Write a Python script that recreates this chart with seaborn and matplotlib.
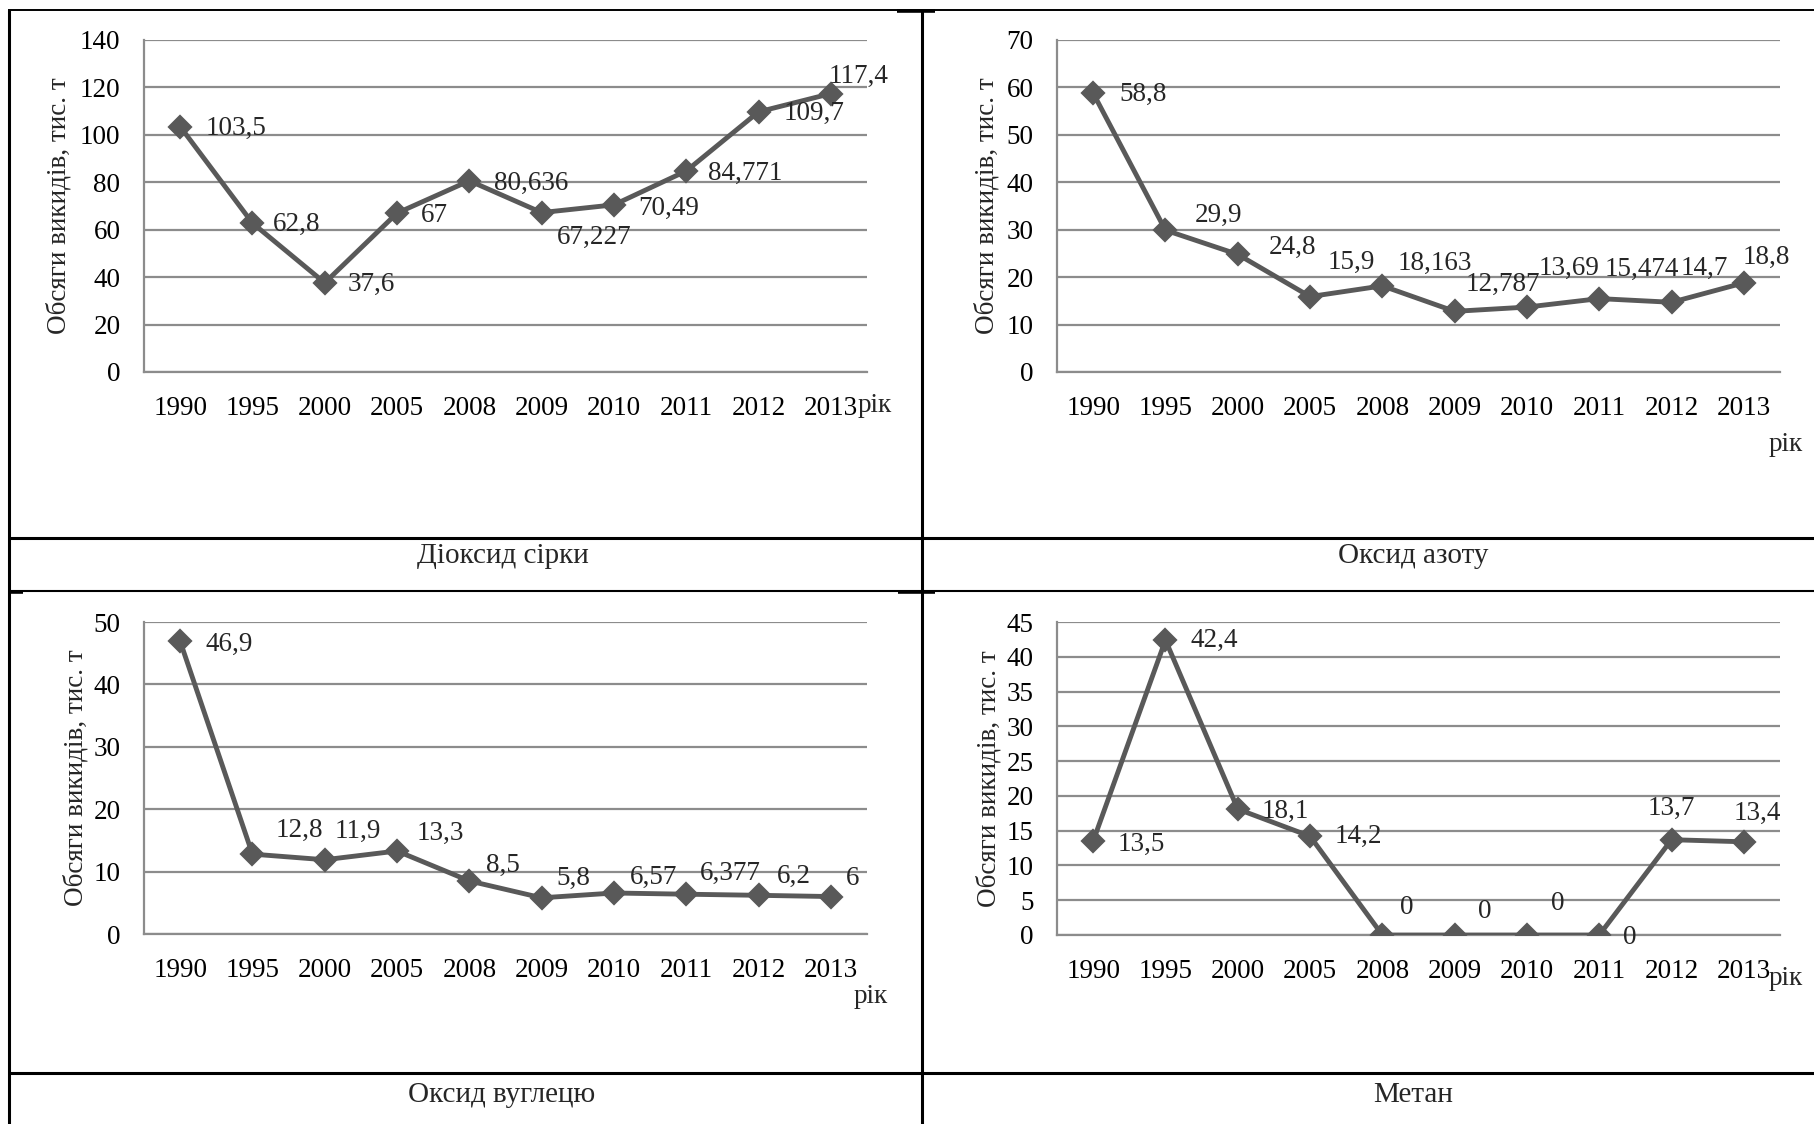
import matplotlib
matplotlib.use("Agg")
import matplotlib.pyplot as plt
import seaborn as sns
from matplotlib.lines import Line2D

# Emission volumes, thousand tonnes
years = ["1990", "1995", "2000", "2005", "2008", "2009", "2010", "2011", "2012", "2013"]
so2 = [103.5, 62.8, 37.6, 67, 80.636, 67.227, 70.49, 84.771, 109.7, 117.4]
nox = [58.8, 29.9, 24.8, 15.9, 18.163, 12.787, 13.69, 15.474, 14.7, 18.8]
co = [46.9, 12.8, 11.9, 13.3, 8.5, 5.8, 6.57, 6.377, 6.2, 6]
ch4 = [13.5, 42.4, 18.1, 14.2, 0, 0, 0, 0, 13.7, 13.4]

titles = ["Діоксид сірки", "Оксид азоту", "Оксид вуглецю", "Метан"]
y_label = "Обсяги викидів, тис. т"
x_unit = "рік"

sns.set_style("white")
plt.rcParams["font.family"] = ["Liberation Serif", "DejaVu Serif"]

W, H = 1814, 1124
fig = plt.figure(figsize=(W / 100, H / 100), dpi=100)


def fx(px):
    return px / W


def fy(py):
    return 1 - py / H


LINE = "#595959"
GRID = "#8c8c8c"
FS = 19.5
CAP_FS = 21

# layout of the four panels (pixel boxes), axis ranges and label offsets
panels = [
    dict(data=so2, box=(144, 40, 867, 372), ymax=140, step=20, ylab_x=59,
         unit=(858, 412), caption=(503, 556),
         offs=[(56, -2), (44, -1), (47, -2), (37, -2), (62, -3), (53, -25),
               (55, -4), (59, -2), (55, -2), (28, 17)]),
    dict(data=nox, box=(1057, 40, 1780, 372), ymax=70, step=10, ylab_x=987,
         unit=(1769, 451), caption=(1413, 556),
         offs=[(50, -1), (53, 15), (55, 7), (41, 34), (52, 22), (48, 27),
               (42, 39), (43, 29), (33, 34), (22, 25)]),
    dict(data=co, box=(144, 622, 867, 934), ymax=50, step=10, ylab_x=76,
         unit=(854, 1003), caption=(502, 1095),
         offs=[(49, -3), (47, 24), (33, 28), (43, 18), (34, 16), (32, 19),
               (40, 16), (44, 21), (35, 19), (22, 18)]),
    dict(data=ch4, box=(1057, 622, 1780, 935), ymax=45, step=5, ylab_x=989,
         unit=(1769, 985), caption=(1413, 1095),
         offs=[(48, -3), (49, 0), (48, -2), (48, 0), (24, 27), (30, 24),
               (31, 31), (30, -2), (0, 31), (13, 28)]),
]

for p, title in zip(panels, titles):
    l, t, r, b = p["box"]
    ax = fig.add_axes([fx(l), fy(b), (r - l) / W, (b - t) / H])
    sns.pointplot(x=years, y=p["data"], ax=ax, color=LINE, marker="D",
                  markersize=10.5, linewidth=3.5, errorbar=None, zorder=3)
    ax.set_xlim(-0.5, len(years) - 0.5)
    ax.set_ylim(0, p["ymax"])
    ax.set_yticks(range(0, p["ymax"] + 1, p["step"]))
    ax.yaxis.grid(True, color=GRID, linewidth=1.6)
    ax.xaxis.grid(False)
    ax.set_axisbelow(True)
    for s in ("top", "right"):
        ax.spines[s].set_visible(False)
    for s in ("left", "bottom"):
        ax.spines[s].set_color(GRID)
        ax.spines[s].set_linewidth(1.6)
    ax.tick_params(axis="both", length=0, labelsize=FS, colors="black")
    ax.tick_params(axis="y", pad=17)
    ax.tick_params(axis="x", pad=17)
    ax.set_xlabel("")
    ax.set_ylabel(y_label, fontsize=FS, va="center", ha="center")
    ax.yaxis.set_label_coords((p["ylab_x"] - l) / (r - l), 0.5)

    for i, (v, (dx, dy)) in enumerate(zip(p["data"], p["offs"])):
        txt = "{:g}".format(v).replace(".", ",")
        ax.annotate(txt, xy=(i, v), xytext=(dx, dy), textcoords="offset pixels",
                    ha="center", va="center", fontsize=FS, zorder=5)

    ux, uy = p["unit"]
    fig.text(fx(ux), fy(uy), x_unit, ha="left", va="baseline", fontsize=FS)
    cx, cy = p["caption"]
    fig.text(fx(cx), fy(cy), title, ha="center", va="center", fontsize=CAP_FS)


def rule(x0, y0, x1, y1, lw=2.2):
    fig.add_artist(Line2D([fx(x0), fx(x1)], [fy(y0), fy(y1)],
                          transform=fig.transFigure, color="black", lw=lw,
                          solid_capstyle="butt"))


# table frame around the panels
rule(8, 10, 1814, 10, lw=1.4)
rule(9, 10, 9, 1124)
rule(922, 10, 922, 1124)
rule(8, 538, 1814, 538)
rule(8, 591, 1814, 591, lw=1.5)
rule(8, 1073, 1814, 1073)
rule(897, 10.5, 935, 10.5, lw=2.6)
rule(898, 591.5, 935, 591.5, lw=2.6)
rule(8, 591.5, 23, 591.5, lw=2.6)

fig.savefig("out.png", dpi=100)
